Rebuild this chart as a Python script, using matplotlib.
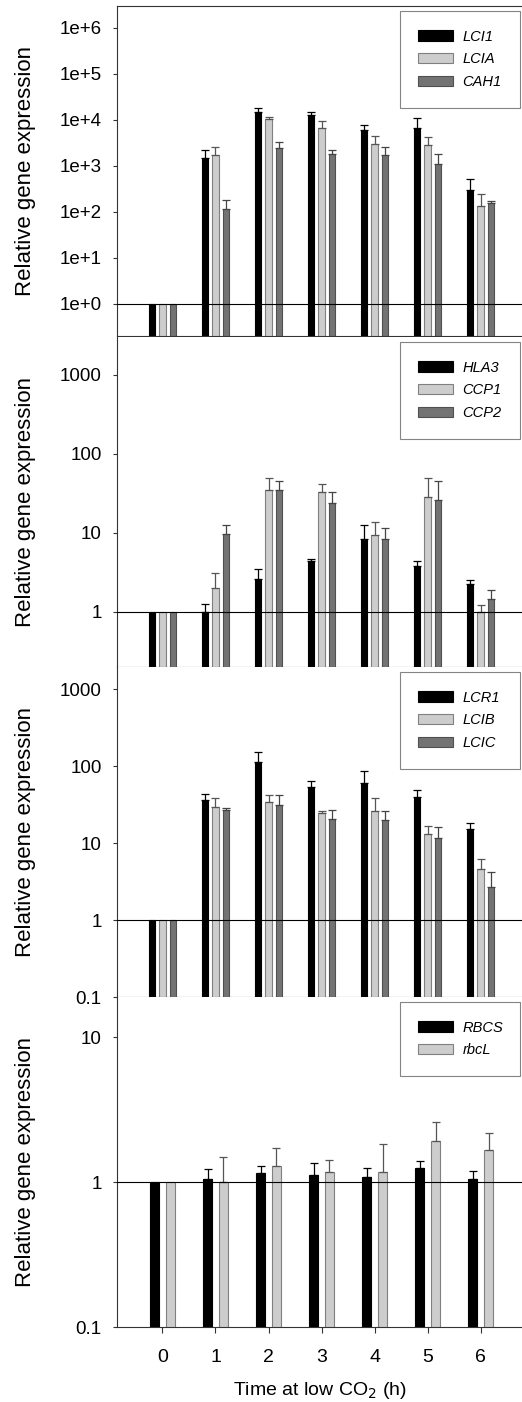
import numpy as np
import matplotlib
matplotlib.use('Agg')
import matplotlib.pyplot as plt
from matplotlib.ticker import FixedLocator, NullLocator

plt.rcParams['font.family'] = ['Liberation Sans', 'DejaVu Sans']

# time points (h at low CO2)
hours = [0, 1, 2, 3, 4, 5, 6]

# panel 1
lci1 = [1, 1470, 14700, 12800, 6060, 6590, 296]
lci1_err = [0, 760, 3800, 1900, 1600, 4600, 225]
lcia = [1, 1710, 10700, 6700, 3050, 2820, 131]
lcia_err = [0, 920, 1100, 2980, 1440, 1450, 111]
cah1 = [1, 116, 2420, 1850, 1710, 1100, 159]
cah1_err = [0, 66, 850, 380, 880, 700, 14]

# panel 2
hla3 = [1, 1.0, 2.62, 4.42, 8.4, 3.82, 2.24]
hla3_err = [0, 0.26, 0.85, 0.23, 4.3, 0.56, 0.28]
ccp1 = [1, 1.97, 34.7, 32.7, 9.4, 28.3, 1.0]
ccp1_err = [0, 1.15, 15.3, 8.1, 4.4, 21.7, 0.23]
ccp2 = [1, 9.6, 34.3, 23.8, 8.4, 25.6, 1.46]
ccp2_err = [0, 2.9, 11.2, 8.9, 3.1, 19.4, 0.45]

# panel 3
lcr1 = [1, 36.5, 114, 53.9, 61.4, 39.6, 15.5]
lcr1_err = [0, 7.2, 41, 10, 26.5, 10.2, 2.9]
lcib = [1, 29.4, 34, 24.5, 26.3, 13.2, 4.55]
lcib_err = [0, 9.4, 8.4, 1.5, 12.5, 3.3, 1.75]
lcic = [1, 26.6, 31.8, 20.9, 20.1, 11.7, 2.71]
lcic_err = [0, 2.4, 11.1, 5.7, 6.2, 4.3, 1.54]

# panel 4
rbcs = [1, 1.06, 1.15, 1.12, 1.09, 1.25, 1.05]
rbcs_err = [0, 0.18, 0.14, 0.23, 0.17, 0.15, 0.15]
rbcl = [1, 1.0, 1.29, 1.18, 1.17, 1.93, 1.68]
rbcl_err = [0, 0.5, 0.42, 0.25, 0.66, 0.66, 0.49]

panels = [
    (['LCI1', 'LCIA', 'CAH1'], [lci1, lcia, cah1], [lci1_err, lcia_err, cah1_err],
     (0.2, 3e6), [1, 10, 100, 1e3, 1e4, 1e5, 1e6],
     ['1e+0', '1e+1', '1e+2', '1e+3', '1e+4', '1e+5', '1e+6']),
    (['HLA3', 'CCP1', 'CCP2'], [hla3, ccp1, ccp2], [hla3_err, ccp1_err, ccp2_err],
     (0.2, 3000), [1, 10, 100, 1000], ['1', '10', '100', '1000']),
    (['LCR1', 'LCIB', 'LCIC'], [lcr1, lcib, lcic], [lcr1_err, lcib_err, lcic_err],
     (0.1, 1950), [0.1, 1, 10, 100, 1000], ['0.1', '1', '10', '100', '1000']),
    (['RBCS', 'rbcL'], [rbcs, rbcl], [rbcs_err, rbcl_err],
     (0.1, 19), [0.1, 1, 10], ['0.1', '1', '10']),
]

fills = ['black', '#cdcdcd', '#737373']
edges = ['black', '#808080', '#505050']
errc = ['black', '#555555', '#444444']

W, H = 522, 1402
fig = plt.figure(figsize=(W / 100, H / 100), dpi=100)
left = 117 / W
tops = [6, 337, 667, 997]
ph = 330

x = np.array(hours, dtype=float)
for i, (names, series, errs, ylim, yt, ytl) in enumerate(panels):
    ax = fig.add_axes([left, 1 - (tops[i] + ph) / H, 1 - left + 0.002, ph / H])
    ax.set_yscale('log')
    n = len(series)
    if n == 3:
        offs = [-0.2, 0.0, 0.2]
        bw = 0.12
    else:
        offs = [-0.15, 0.15]
        bw = 0.18
    for k in range(n):
        ax.bar(x + offs[k], series[k], width=bw, color=fills[k], edgecolor=edges[k],
               linewidth=0.8, label=names[k], zorder=2)
        e = np.array(errs[k])
        v = np.array(series[k])
        ax.errorbar(x[1:] + offs[k], v[1:], yerr=[np.zeros(len(e) - 1), e[1:]],
                    fmt='none', ecolor=errc[k], elinewidth=0.9, capsize=3,
                    capthick=0.9, zorder=3)
    ax.axhline(1, color='black', lw=0.8, zorder=4)
    ax.set_ylim(*ylim)
    ax.set_xlim(-0.857, 6.8)
    ax.yaxis.set_major_locator(FixedLocator(yt))
    ax.set_yticklabels(ytl)
    ax.yaxis.set_minor_locator(NullLocator())
    ax.tick_params(axis='y', direction='out', length=3, width=0.8, pad=8,
                   labelsize=13.5, color='#333333')
    ax.spines['right'].set_visible(False)
    for s in ['left', 'top', 'bottom']:
        ax.spines[s].set_linewidth(0.8)
        ax.spines[s].set_color('#333333')
    if i > 0:
        ax.spines['top'].set_visible(False)
    ax.set_ylabel('Relative gene expression', fontsize=16)
    ax.yaxis.set_label_coords(-0.2, 0.5)
    if i < 3:
        ax.set_xticks([])
    else:
        ax.set_xticks(hours)
        ax.tick_params(axis='x', direction='out', length=4, width=0.8, pad=12,
                       labelsize=14, color='#333333')
        ax.set_xlabel('Time at low CO$_2$ (h)', fontsize=14, labelpad=10)
    # legend box stretched to the same width as in the original figure
    leg = ax.legend(loc='upper right', bbox_to_anchor=(0.696, 0.5, 0.2966, 0.485),
                    mode='expand', borderaxespad=0, fancybox=False, frameon=True,
                    handlelength=2.4, handleheight=0.7, handletextpad=0.62,
                    labelspacing=0.6, borderpad=1.28,
                    prop={'style': 'italic', 'size': 10.5})
    leg.get_frame().set_edgecolor('#666666')
    leg.get_frame().set_linewidth(0.8)
    leg.set_zorder(5)

fig.savefig('out.png', dpi=100)
